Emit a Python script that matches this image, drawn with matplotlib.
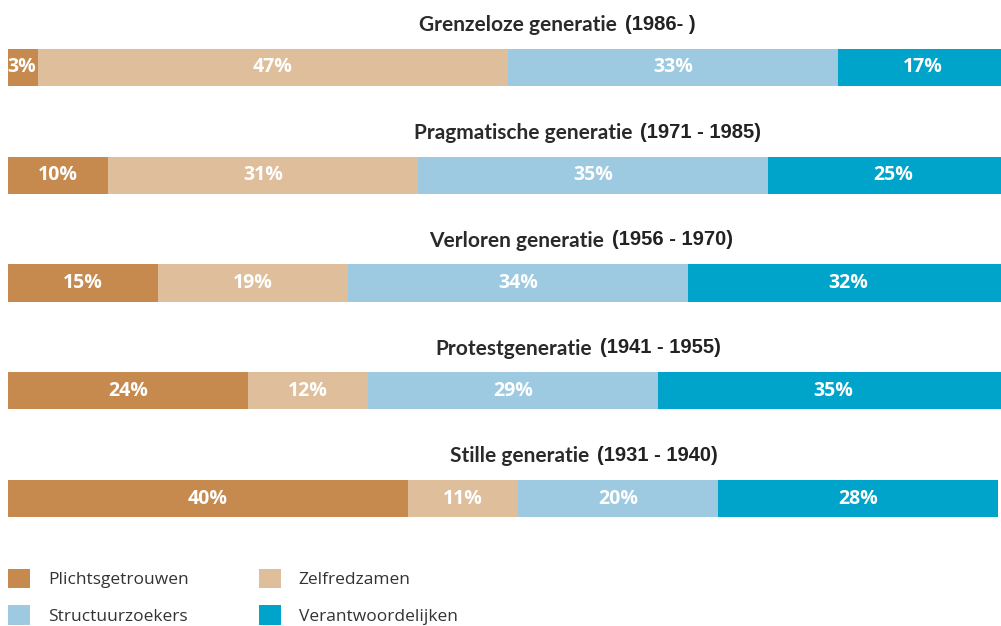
import matplotlib
matplotlib.use("Agg")
import matplotlib.pyplot as plt
from matplotlib.patches import Patch
import numpy as np

# DATA
generations = ["Grenzeloze generatie", "Pragmatische generatie", "Verloren generatie",
               "Protestgeneratie", "Stille generatie"]
periods = ["(1986- )", "(1971 - 1985)", "(1956 - 1970)", "(1941 - 1955)", "(1931 - 1940)"]
segments = ["Plichtsgetrouwen", "Zelfredzamen", "Structuurzoekers", "Verantwoordelijken"]

plichtsgetrouwen = [3, 10, 15, 24, 40]
zelfredzamen = [47, 31, 19, 12, 11]
structuurzoekers = [33, 35, 34, 29, 20]
verantwoordelijken = [17, 25, 32, 35, 28]

colours = ["#C68A4E", "#DFBE9B", "#9DCAE1", "#00A4CA"]

# LAYOUT
fig = plt.figure(figsize=(10.01, 6.26), dpi=100)
ax = fig.add_axes([0, 0, 1, 1])
ax.set_xlim(-0.8, 99.3)
ax.set_ylim(5.183, -0.626)
ax.axis("off")

bar_h = 0.345
# where the "(years)" part starts, per title
years_x = [61.7, 63.2, 60.4, 59.2, 58.9]

y = np.arange(len(generations))
left = np.zeros(len(generations))
for vals, col in zip([plichtsgetrouwen, zelfredzamen, structuurzoekers, verantwoordelijken], colours):
    vals = np.array(vals)
    ax.barh(y, vals, left=left, height=bar_h, color=col, edgecolor="none")
    for yi, l, v in zip(y, left, vals):
        x_txt = l + v / 2 if v > 4 else l + 1.4
        ax.text(x_txt, yi, f"{v}%", ha="center", va="center", color="white",
                fontsize=14, fontweight="bold", family="Open Sans")
    left = left + vals

for yi, name, per, tx in zip(y, generations, periods, years_x):
    ax.text(tx - 0.8, yi - 0.39, name, ha="right", va="center",
            fontsize=15, fontweight="bold", family="Lato", color="#2a2a2a")
    ax.text(tx, yi - 0.40, per, ha="left", va="center",
            fontsize=14.5, fontweight="bold", family="Liberation Sans", color="#222222")

handles = [Patch(facecolor=c, edgecolor="none", label=s) for s, c in zip(segments, colours)]
# legend order: row-wise
order = [0, 2, 1, 3]
leg = fig.legend([handles[i] for i in order], [segments[i] for i in order],
                 ncol=2, loc="lower left", bbox_to_anchor=(0.008, 0.002),
                 frameon=False, handlelength=1.25, handleheight=1.35,
                 handletextpad=1.05, columnspacing=4.05, labelspacing=0.98,
                 borderpad=0, borderaxespad=0,
                 prop={"family": "Open Sans", "size": 12.5})
for t in leg.get_texts():
    t.set_color("#333333")

fig.savefig("out.png", dpi=100)
